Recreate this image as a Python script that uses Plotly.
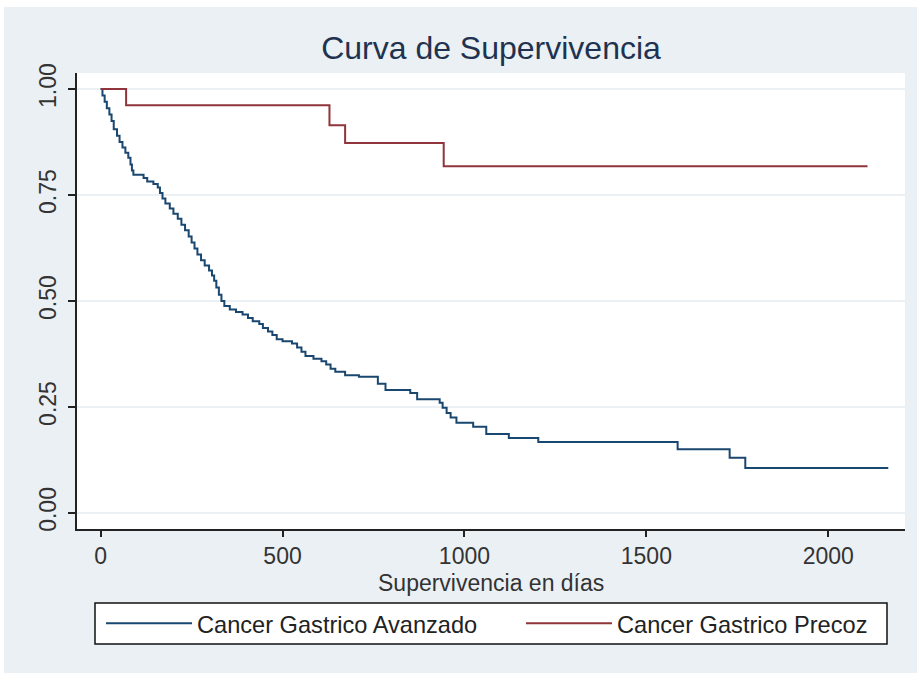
import plotly.graph_objects as go

# Kaplan-Meier steps (day of event, survival after event)
dias_avanzado = [0, 5, 11, 17, 24, 30, 36, 45, 52, 60, 68, 76, 82, 86, 90, 118, 128, 145,
                 157, 163, 170, 178, 190, 200, 212, 222, 232, 242, 250, 258, 266, 276, 286,
                 298, 306, 312, 318, 325, 332, 340, 355, 372, 390, 405, 418, 436, 446, 460,
                 472, 484, 500, 526, 540, 552, 563, 585, 607, 620, 632, 645, 672, 710, 762,
                 783, 851, 870, 932, 940, 951, 962, 978, 1024, 1060, 1122, 1203, 1586, 1729,
                 1772, 2165]
surv_avanzado = [1.000, 0.985, 0.970, 0.955, 0.940, 0.925, 0.905, 0.890, 0.875, 0.862, 0.850,
                 0.838, 0.822, 0.808, 0.798, 0.790, 0.782, 0.776, 0.768, 0.755, 0.742, 0.730,
                 0.718, 0.706, 0.694, 0.680, 0.667, 0.652, 0.638, 0.624, 0.610, 0.596, 0.584,
                 0.572, 0.560, 0.548, 0.532, 0.515, 0.500, 0.488, 0.480, 0.474, 0.468, 0.460,
                 0.452, 0.446, 0.436, 0.428, 0.420, 0.410, 0.405, 0.400, 0.390, 0.380, 0.370,
                 0.364, 0.358, 0.350, 0.340, 0.333, 0.325, 0.321, 0.305, 0.290, 0.283, 0.268,
                 0.260, 0.248, 0.236, 0.225, 0.213, 0.203, 0.186, 0.177, 0.167, 0.150, 0.130,
                 0.106, 0.106]

dias_precoz = [0, 70, 629, 672, 943, 2108]
surv_precoz = [1.000, 0.962, 0.915, 0.873, 0.818, 0.818]

x_ticks = [0, 500, 1000, 1500, 2000]
y_ticks = [0.0, 0.25, 0.5, 0.75, 1.0]
y_tick_labels = ["0.00", "0.25", "0.50", "0.75", "1.00"]

titulo = "Curva de Supervivencia"
titulo_x = "Supervivencia en días"
nombres = ["Cancer Gastrico Avanzado", "Cancer Gastrico Precoz"]
colores = ["#1a476f", "#90353b"]

W, H = 917, 673
ML, MR, MT, MB = 77, 12, 73, 144
PW, PH = W - ML - MR, H - MT - MB
FONT = "Liberation Sans, Arial, sans-serif"


def px2paper_x(px):
    return (px - ML) / PW


def px2paper_y(py):
    return (H - MB - py) / PH


fig = go.Figure()
fig.add_trace(go.Scatter(x=dias_avanzado, y=surv_avanzado, mode="lines", line_shape="hv",
                         line=dict(color=colores[0], width=2), name=nombres[0],
                         legend="legend"))
fig.add_trace(go.Scatter(x=dias_precoz, y=surv_precoz, mode="lines", line_shape="hv",
                         line=dict(color=colores[1], width=2), name=nombres[1],
                         legend="legend2"))

shapes = [
    # thin white frame around the picture
    dict(type="rect", xref="paper", yref="paper", layer="below",
         x0=px2paper_x(0), x1=px2paper_x(W), y0=px2paper_y(7), y1=px2paper_y(0),
         fillcolor="white", line=dict(width=0)),
    dict(type="rect", xref="paper", yref="paper", layer="below",
         x0=px2paper_x(0), x1=px2paper_x(4), y0=px2paper_y(H), y1=px2paper_y(0),
         fillcolor="white", line=dict(width=0)),
    # legend frame
    dict(type="rect", xref="paper", yref="paper", layer="above",
         x0=px2paper_x(95), x1=px2paper_x(887), y0=px2paper_y(644), y1=px2paper_y(603),
         fillcolor="white", line=dict(color="#111111", width=1.5)),
]

legend_common = dict(orientation="h", xanchor="left", yanchor="middle",
                     y=px2paper_y(623.5), bgcolor="rgba(0,0,0,0)", borderwidth=0,
                     font=dict(family=FONT, size=23.6, color="#222222"), itemwidth=86)

fig.update_layout(
    width=W, height=H,
    margin=dict(l=ML, r=MR, t=MT, b=MB),
    paper_bgcolor="#eaf0f3",
    plot_bgcolor="white",
    font=dict(family=FONT, color="#333333"),
    title=dict(text=titulo, x=0.5, xref="paper", xanchor="center",
               y=(H - 48) / H, yanchor="middle", yref="container",
               font=dict(size=32, color="#1f3350")),
    xaxis=dict(range=[-65, 2211], tickvals=x_ticks, showgrid=False, zeroline=False,
               showline=True, linecolor="#222222", linewidth=1.5,
               ticks="outside", ticklen=6, tickwidth=1.5, tickcolor="#222222",
               tickfont=dict(size=23, color="#333333")),
    yaxis=dict(range=[-0.038, 1.038], tickvals=y_ticks, ticktext=y_tick_labels,
               tickangle=-90, showgrid=True, gridcolor="#eaf0f3", gridwidth=1.5,
               zeroline=False, showline=True, linecolor="#222222", linewidth=1.5,
               ticks="outside", ticklen=7, tickwidth=1.5, tickcolor="#222222",
               ticklabelstandoff=3,
               tickfont=dict(size=23, color="#333333")),
    annotations=[dict(text=titulo_x, xref="paper", yref="paper",
                      x=px2paper_x(491), y=px2paper_y(583),
                      xanchor="center", yanchor="middle", showarrow=False,
                      font=dict(family=FONT, size=23, color="#333333"))],
    legend=dict(x=px2paper_x(101), **legend_common),
    legend2=dict(x=px2paper_x(521), **legend_common),
    shapes=shapes,
    showlegend=True,
)

fig.write_html("out.html", config={"displayModeBar": False},
               post_script="document.body.style.margin='0px';")
